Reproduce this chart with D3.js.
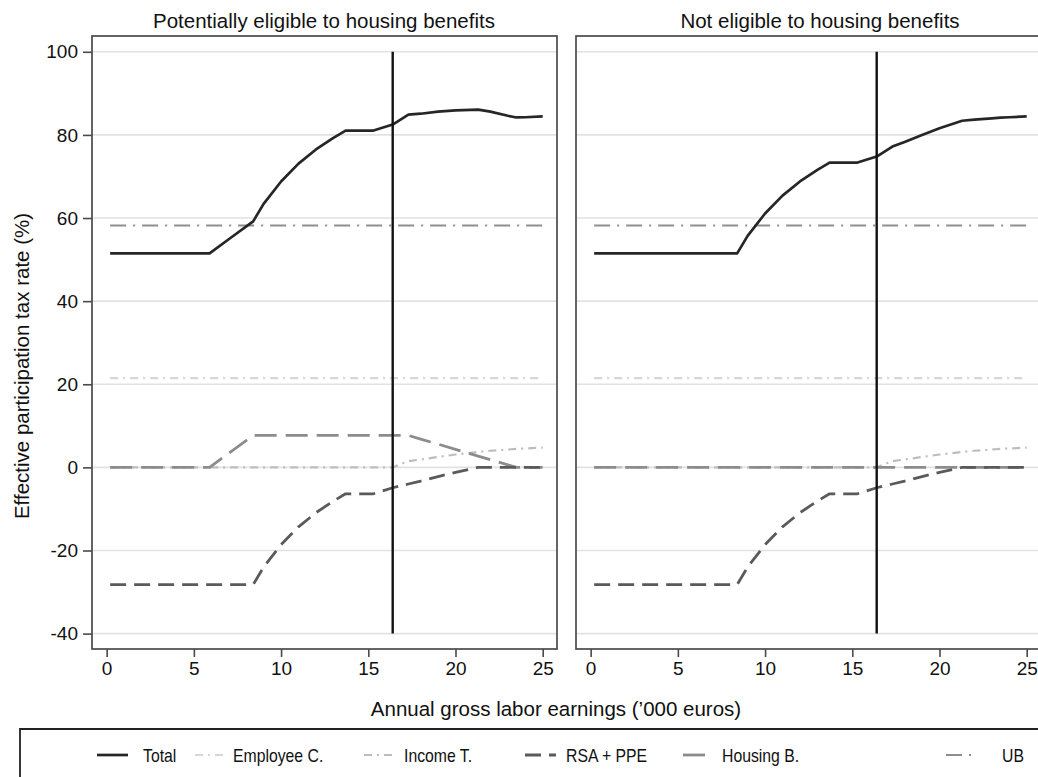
<!DOCTYPE html>
<html>
<head>
<meta charset="utf-8">
<script src="https://cdn.jsdelivr.net/npm/d3@7/dist/d3.min.js"></script>
<style>
  html, body { margin: 0; padding: 0; background: #fff; }
  svg { display: block; font-family: "Liberation Sans", Arial, Helvetica, sans-serif; }
</style>
</head>
<body>
<svg id="chart" width="1038" height="777"></svg>
<script>
// Annual gross labour earnings ('000 euros) at which each curve is sampled
const earnings = [0.2, 3, 5.9, 7, 8.4, 9, 10, 11, 12, 13, 13.7, 15.3, 16.4, 17.3, 18, 19, 20, 21.3, 22, 23, 23.5, 24, 25];

// Panel 1: potentially eligible to housing benefits (%)
const eligTotal    = [51.5, 51.5, 51.5, 54.9, 59.2, 63.4, 68.8, 73.1, 76.5, 79.3, 81.05, 81.05, 82.5, 84.9, 85.1, 85.6, 85.9, 86.1, 85.6, 84.6, 84.2, 84.25, 84.45];
const eligEmployee = [21.5, 21.5, 21.5, 21.5, 21.5, 21.5, 21.5, 21.5, 21.5, 21.5, 21.5, 21.5, 21.5, 21.5, 21.5, 21.5, 21.5, 21.5, 21.5, 21.5, 21.5, 21.5, 21.5];
const eligIncome   = [0, 0, 0, 0, 0, 0, 0, 0, 0, 0, 0, 0, 0, 1.5, 1.9, 2.5, 3.1, 3.7, 4.0, 4.3, 4.45, 4.55, 4.75];
const eligRsa      = [-28.2, -28.2, -28.2, -28.2, -28.2, -24.0, -18.6, -14.3, -10.9, -8.1, -6.35, -6.35, -4.9, -4.0, -3.3, -2.2, -1.2, 0, 0, 0, 0, 0, 0];
const eligHousing  = [0, 0, 0, 3.4, 7.7, 7.7, 7.7, 7.7, 7.7, 7.7, 7.7, 7.7, 7.7, 7.7, 6.8, 5.6, 4.35, 2.7, 1.85, 0.6, 0, 0, 0];
const eligUb       = [58.2, 58.2, 58.2, 58.2, 58.2, 58.2, 58.2, 58.2, 58.2, 58.2, 58.2, 58.2, 58.2, 58.2, 58.2, 58.2, 58.2, 58.2, 58.2, 58.2, 58.2, 58.2, 58.2];

// Panel 2: not eligible to housing benefits (%)
const noneTotal    = [51.5, 51.5, 51.5, 51.5, 51.5, 55.7, 61.1, 65.4, 68.8, 71.6, 73.35, 73.35, 74.8, 77.2, 78.3, 80.0, 81.6, 83.4, 83.7, 84.0, 84.15, 84.25, 84.45];
const noneEmployee = [21.5, 21.5, 21.5, 21.5, 21.5, 21.5, 21.5, 21.5, 21.5, 21.5, 21.5, 21.5, 21.5, 21.5, 21.5, 21.5, 21.5, 21.5, 21.5, 21.5, 21.5, 21.5, 21.5];
const noneIncome   = [0, 0, 0, 0, 0, 0, 0, 0, 0, 0, 0, 0, 0, 1.5, 1.9, 2.5, 3.1, 3.7, 4.0, 4.3, 4.45, 4.55, 4.75];
const noneRsa      = [-28.2, -28.2, -28.2, -28.2, -28.2, -24.0, -18.6, -14.3, -10.9, -8.1, -6.35, -6.35, -4.9, -4.0, -3.3, -2.2, -1.2, 0, 0, 0, 0, 0, 0];
const noneHousing  = [0, 0, 0, 0, 0, 0, 0, 0, 0, 0, 0, 0, 0, 0, 0, 0, 0, 0, 0, 0, 0, 0, 0];
const noneUb       = [58.2, 58.2, 58.2, 58.2, 58.2, 58.2, 58.2, 58.2, 58.2, 58.2, 58.2, 58.2, 58.2, 58.2, 58.2, 58.2, 58.2, 58.2, 58.2, 58.2, 58.2, 58.2, 58.2];

// Reference earnings level marked by the vertical line, and its span
const markerEarnings = 16.4;
const markerSpan = [-40, 100];

const panelTitles = ["Potentially eligible to housing benefits", "Not eligible to housing benefits"];
const seriesNames = ["Total", "Employee C.", "Income T.", "RSA + PPE", "Housing B.", "UB"];
const xTicks = [0, 5, 10, 15, 20, 25];
const yTicks = [-40, -20, 0, 20, 40, 60, 80, 100];
const xTitle = "Annual gross labor earnings (\u2019000 euros)";
const yTitle = "Effective participation tax rate (%)";

// Line styles per series
const styles = {
  "Total":       { color: "#262626", width: 2.7, dash: null },
  "Employee C.": { color: "#d6d6d6", width: 2.2, dash: "8,5,2,5" },
  "Income T.":   { color: "#bdbdbd", width: 2.2, dash: "8,5,2,5" },
  "RSA + PPE":   { color: "#5a5a5a", width: 2.8, dash: "16,8" },
  "Housing B.":  { color: "#8c8c8c", width: 2.8, dash: "22,9" },
  "UB":          { color: "#8e8e8e", width: 1.9, dash: "16,7,2,7" }
};

const panels = [
  { title: panelTitles[0], left: 92,  series: [eligTotal, eligEmployee, eligIncome, eligRsa, eligHousing, eligUb] },
  { title: panelTitles[1], left: 576, series: [noneTotal, noneEmployee, noneIncome, noneRsa, noneHousing, noneUb] }
];

const svg = d3.select("#chart");
const TICK_FONT = 19;
const TITLE_FONT = 20.5;
const plotTop = 36, plotBottom = 649, panelW = 465;
const hyphenInt = d => String(d);   // plain hyphen-minus for negatives

const y = d3.scaleLinear().domain([-43.7, 103.8]).range([plotBottom, plotTop]);

panels.forEach((p, pi) => {
  const x = d3.scaleLinear().domain([-0.84, 25.82]).range([p.left, p.left + panelW]);
  const g = svg.append("g");

  // horizontal gridlines
  g.append("g").selectAll("line").data(yTicks).join("line")
    .attr("x1", p.left).attr("x2", p.left + panelW)
    .attr("y1", d => y(d)).attr("y2", d => y(d))
    .attr("stroke", "#e2e2e2").attr("stroke-width", 1.6);

  // series, drawn back to front so Total sits on top
  const order = [1, 2, 5, 4, 3, 0];
  order.forEach(si => {
    const name = seriesNames[si];
    const st = styles[name];
    const vals = p.series[si];
    const line = d3.line().x((d, i) => x(earnings[i])).y(d => y(d));
    g.append("path").datum(vals)
      .attr("d", line)
      .attr("fill", "none")
      .attr("stroke", st.color)
      .attr("stroke-width", st.width)
      .attr("stroke-dasharray", st.dash)
      .attr("stroke-linejoin", "round");
  });

  // vertical marker
  g.append("line")
    .attr("x1", x(markerEarnings)).attr("x2", x(markerEarnings))
    .attr("y1", y(markerSpan[0])).attr("y2", y(markerSpan[1]))
    .attr("stroke", "#111").attr("stroke-width", 2.4);

  // frame
  g.append("rect")
    .attr("x", p.left).attr("y", plotTop)
    .attr("width", panelW).attr("height", plotBottom - plotTop)
    .attr("fill", "none").attr("stroke", "#4a4a4a").attr("stroke-width", 1.7);

  // x axis
  const xAxis = d3.axisBottom(x).tickValues(xTicks).tickSize(8).tickPadding(5).tickFormat(hyphenInt);
  const xa = g.append("g").attr("transform", `translate(0,${plotBottom})`).call(xAxis);
  xa.select(".domain").remove();
  xa.selectAll(".tick line").attr("stroke", "#4a4a4a").attr("stroke-width", 1.6);
  xa.selectAll(".tick text").attr("font-size", TICK_FONT).attr("fill", "#111").attr("font-family", null);

  // y axis on the first panel only
  if (pi === 0) {
    const yAxis = d3.axisLeft(y).tickValues(yTicks).tickSize(9).tickPadding(5).tickFormat(hyphenInt);
    const ya = g.append("g").attr("transform", `translate(${p.left},0)`).call(yAxis);
    ya.select(".domain").remove();
    ya.selectAll(".tick line").attr("stroke", "#4a4a4a").attr("stroke-width", 1.6);
    ya.selectAll(".tick text").attr("font-size", TICK_FONT).attr("fill", "#111").attr("font-family", null);
  }

  // panel title
  g.append("text")
    .attr("x", pi === 0 ? 324 : 820).attr("y", 28)
    .attr("text-anchor", "middle").attr("font-size", TITLE_FONT).attr("fill", "#111")
    .text(p.title);
});

// axis titles
svg.append("text")
  .attr("x", 556).attr("y", 716)
  .attr("text-anchor", "middle").attr("font-size", TITLE_FONT).attr("fill", "#111")
  .text(xTitle);

svg.append("text")
  .attr("transform", "translate(29,366) rotate(-90)")
  .attr("text-anchor", "middle").attr("font-size", TITLE_FONT).attr("fill", "#111")
  .text(yTitle);

// legend box
svg.append("path")
  .attr("d", "M20,777 L20,729 L1040,729")
  .attr("fill", "none").attr("stroke", "#222").attr("stroke-width", 1.8);

// legend keys: sample line start and label start, label set in a condensed face
const legendItems = [
  { name: "Total",       key: 97,  label: 143 },
  { name: "Employee C.", key: 195, label: 233 },
  { name: "Income T.",   key: 364, label: 404 },
  { name: "RSA + PPE",   key: 525, label: 566 },
  { name: "Housing B.",  key: 683, label: 722 },
  { name: "UB",          key: 946, label: 1002 }
];
const legendY = 755;
const lg = svg.append("g");
legendItems.forEach(it => {
  const st = styles[it.name];
  lg.append("line")
    .attr("x1", it.key).attr("x2", it.key + 31)
    .attr("y1", legendY).attr("y2", legendY)
    .attr("stroke", st.color).attr("stroke-width", st.width)
    .attr("stroke-dasharray", st.dash);
  const t = lg.append("text")
    .attr("x", it.label).attr("y", legendY + 7)
    .attr("font-size", TICK_FONT).attr("fill", "#111")
    .text(it.name);
  const w = t.node().getComputedTextLength();
  t.attr("textLength", w * 0.83).attr("lengthAdjust", "spacingAndGlyphs");
});
</script>
</body>
</html>
